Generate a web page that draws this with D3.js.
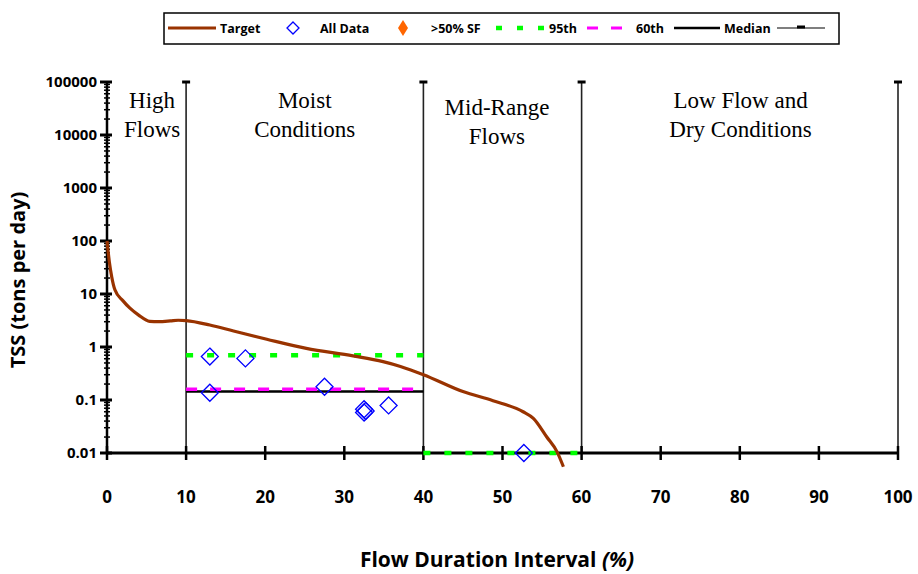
<!DOCTYPE html>
<html><head><meta charset="utf-8">
<script src="https://cdn.jsdelivr.net/npm/d3@7"></script>
<style>body{margin:0;background:#fff}svg{display:block}</style>
</head><body>
<script>
// ---- data ----
const targetX = [0, 0.3, 0.6, 1.0, 2.0, 2.9, 4.0, 5.4, 6.5, 8.0, 9.0, 10, 13, 16, 20.2, 25.2, 31.1, 34.9, 37.1, 40, 45, 48.8, 52.6, 53.9, 55.6, 56.9, 57.7];
const targetY = [100, 40, 21, 12, 7.5, 5.4, 4.0, 3.05, 3.0, 3.1, 3.2, 3.15, 2.6, 2.0, 1.4, 0.94, 0.68, 0.53, 0.43, 0.30, 0.144, 0.097, 0.060, 0.045, 0.020, 0.0105, 0.0055];
const dataX = [13.0, 17.5, 13.0, 27.5, 32.5, 32.5, 32.7, 35.6, 52.7];
const dataY = [0.66, 0.61, 0.137, 0.178, 0.067, 0.058, 0.062, 0.079, 0.01];
const segStart = [10, 40];
const segEnd = [40, 60];
const p95 = [0.70, 0.01];
const p60 = [0.16];
const median = [0.144];
const boundaries = [10, 40, 60, 100];
const xTicks = [0, 10, 20, 30, 40, 50, 60, 70, 80, 90, 100];
const yTicks = [0.01, 0.1, 1, 10, 100, 1000, 10000, 100000];
const yTickLabels = ["0.01", "0.1", "1", "10", "100", "1000", "10000", "100000"];
const regionLabels = [["High", "Flows"], ["Moist", "Conditions"], ["Mid-Range", "Flows"], ["Low Flow and", "Dry Conditions"]];
const regionCenters = [5.7, 25, 49.3, 80.1];
const regionOffsets = [0, 0, 7, 0];
const legendLabels = ["Target", "All Data", ">50% SF", "95th", "60th", "Median"];

// ---- chart ----
const W = 918, H = 574;
const svg = d3.select("body").append("svg").attr("width", W).attr("height", H);
const x = d3.scaleLinear().domain([0, 100]).range([107, 898]);
const y = d3.scaleLog().domain([0.01, 100000]).range([453, 82]);
const F = "'Open Sans', 'DejaVu Sans', sans-serif";

// region boundary lines
boundaries.forEach(b => {
  svg.append("line").attr("x1", x(b)).attr("x2", x(b)).attr("y1", y(100000)).attr("y2", y(0.01))
    .attr("stroke", "#222").attr("stroke-width", 1.6);
  svg.append("line").attr("x1", x(b) - 4).attr("x2", x(b) + 4).attr("y1", y(100000)).attr("y2", y(100000))
    .attr("stroke", "#000").attr("stroke-width", 3);
});

// region labels
regionLabels.forEach((lines, i) => {
  lines.forEach((t, j) => {
    svg.append("text").attr("x", x(regionCenters[i])).attr("y", 108 + regionOffsets[i] + j * 29)
      .attr("text-anchor", "middle").attr("font-family", "'Liberation Serif', serif").attr("font-size", 23)
      .attr("fill", "#000").text(t);
  });
});

// y axis
svg.append("line").attr("x1", x(0)).attr("x2", x(0)).attr("y1", y(100000)).attr("y2", y(0.01))
  .attr("stroke", "#000").attr("stroke-width", 2.5);
const minor = [];
for (let e = -2; e < 5; e++) for (let m = 2; m < 10; m++) minor.push(m * Math.pow(10, e));
svg.selectAll(".ymin").data(minor).enter().append("line")
  .attr("x1", x(0) - 3).attr("x2", x(0) + 3).attr("y1", d => y(d)).attr("y2", d => y(d))
  .attr("stroke", "#000").attr("stroke-width", 1.5);
svg.selectAll(".ymaj").data(yTicks).enter().append("line")
  .attr("x1", x(0) - 7).attr("x2", x(0) + 5).attr("y1", d => y(d)).attr("y2", d => y(d))
  .attr("stroke", "#000").attr("stroke-width", 3);
svg.selectAll(".ylab").data(yTicks).enter().append("text")
  .attr("x", 97).attr("y", d => y(d) + 5).attr("text-anchor", "end")
  .attr("font-family", F).attr("font-weight", "bold").attr("font-size", 15).attr("fill", "#000")
  .text((d, i) => yTickLabels[i]);

// x axis
svg.append("line").attr("x1", x(0)).attr("x2", x(100)).attr("y1", y(0.01)).attr("y2", y(0.01))
  .attr("stroke", "#000").attr("stroke-width", 3);
svg.selectAll(".xmaj").data(xTicks).enter().append("line")
  .attr("x1", d => x(d)).attr("x2", d => x(d)).attr("y1", y(0.01) - 7).attr("y2", y(0.01) + 7)
  .attr("stroke", "#000").attr("stroke-width", 2.5);
svg.selectAll(".xlab").data(xTicks).enter().append("text")
  .attr("x", d => x(d)).attr("y", 503).attr("text-anchor", "middle")
  .attr("font-family", F).attr("font-weight", "bold").attr("font-size", 17).attr("fill", "#000")
  .text(d => d);

// percentile lines
const seg = (vals, color, w, dash) => {
  vals.forEach((v, i) => {
    svg.append("line").attr("x1", x(segStart[i])).attr("x2", x(segEnd[i])).attr("y1", y(v)).attr("y2", y(v))
      .attr("stroke", color).attr("stroke-width", w).attr("stroke-dasharray", dash);
  });
};
seg(median, "#000", 2.5, null);
seg(p60, "#FF00FF", 3.5, "11,13");
seg(p95, "#00FF00", 4.5, "7,14");

// target curve
const line = d3.line().x(d => x(d[0])).y(d => y(d[1])).curve(d3.curveMonotoneX);
svg.append("path").datum(targetX.map((v, i) => [v, targetY[i]]))
  .attr("d", line).attr("fill", "none").attr("stroke", "#993300").attr("stroke-width", 3.2);

// data points
const diamond = (cx, cy, r) => `M${cx},${cy - r}L${cx + r},${cy}L${cx},${cy + r}L${cx - r},${cy}Z`;
svg.selectAll(".pt").data(dataX.map((v, i) => [v, dataY[i]])).enter().append("path")
  .attr("d", d => diamond(x(d[0]), y(d[1]), 8.5)).attr("fill", "none").attr("stroke", "#0000FF").attr("stroke-width", 1.3);

// axis titles
svg.append("text").attr("transform", "translate(25,280) rotate(-90)").attr("text-anchor", "middle")
  .attr("font-family", F).attr("font-weight", "bold").attr("font-size", 20).attr("fill", "#000")
  .text("TSS (tons per day)");
const xt = svg.append("text").attr("x", 497).attr("y", 567).attr("text-anchor", "middle")
  .attr("font-family", F).attr("font-weight", "bold").attr("font-size", 21).attr("fill", "#000");
xt.append("tspan").text("Flow Duration Interval ");
xt.append("tspan").attr("font-style", "italic").text("(%)");

// legend
const lg = svg.append("g");
lg.append("rect").attr("x", 164).attr("y", 13).attr("width", 675).attr("height", 31)
  .attr("fill", "#fff").attr("stroke", "#000").attr("stroke-width", 1.5);
const ly = 28;
const lt = (tx, t) => lg.append("text").attr("x", tx).attr("y", ly + 5).attr("font-family", F)
  .attr("font-weight", "bold").attr("font-size", 12.5).attr("fill", "#000").text(t);
lg.append("line").attr("x1", 168).attr("x2", 216).attr("y1", ly).attr("y2", ly).attr("stroke", "#993300").attr("stroke-width", 3.2);
lt(220, legendLabels[0]);
lg.append("path").attr("d", diamond(293, ly, 6)).attr("fill", "none").attr("stroke", "#0000FF").attr("stroke-width", 1.3);
lt(320, legendLabels[1]);
lg.append("path").attr("d", "M403,20L408,28L403,36L398,28Z").attr("fill", "#FF6600");
lt(431, legendLabels[2]);
lg.append("line").attr("x1", 496).attr("x2", 546).attr("y1", ly).attr("y2", ly).attr("stroke", "#00FF00").attr("stroke-width", 4.5).attr("stroke-dasharray", "6,15");
lt(549, legendLabels[3]);
lg.append("line").attr("x1", 587).attr("x2", 628).attr("y1", ly).attr("y2", ly).attr("stroke", "#FF00FF").attr("stroke-width", 3).attr("stroke-dasharray", "11,13");
lt(636, legendLabels[4]);
lg.append("line").attr("x1", 674).attr("x2", 720).attr("y1", ly).attr("y2", ly).attr("stroke", "#000").attr("stroke-width", 2.5);
lt(724, legendLabels[5]);
lg.append("line").attr("x1", 777).attr("x2", 825).attr("y1", ly).attr("y2", ly).attr("stroke", "#000").attr("stroke-width", 1.2);
lg.append("line").attr("x1", 797).attr("x2", 805).attr("y1", ly - 1).attr("y2", ly - 1).attr("stroke", "#000").attr("stroke-width", 3);
</script>
</body></html>
